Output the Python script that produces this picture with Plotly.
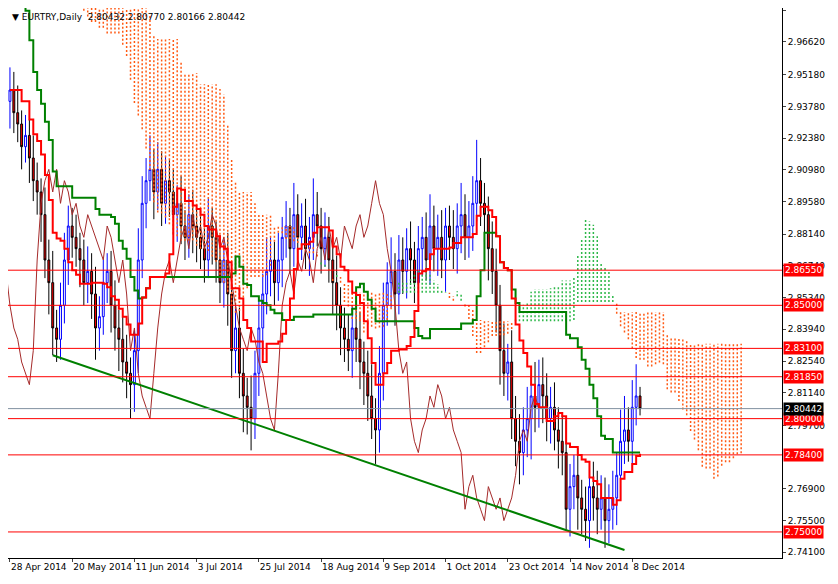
import plotly.graph_objects as go

# ---- data ----
pre_close = [3.02,3.03,3.04,3.05,3.06,3.05,3.04,3.03,3.05,3.07,3.08,3.06,3.05,3.04,3.06,3.08,3.09,3.10,3.08,3.07,
             3.06,3.05,3.07,3.06,3.04,3.03,3.02,3.03,3.05,3.06,3.04,3.02,3.00,2.99,2.98,2.97,2.99,2.98,2.96,2.95,
             2.96,2.97,2.95,2.94,2.93,2.94,2.95,2.96,2.95,2.94,2.93,2.94]
close = [2.945,2.935,2.93,2.92,2.925,2.915,2.905,2.90,2.89,2.87,2.86,
         2.84,2.835,2.85,2.87,2.885,
         2.88,2.875,2.87,2.86,2.865,
         2.855,2.84,2.845,2.86,2.865,
         2.85,2.84,2.835,2.825,2.82,2.815,
         2.83,2.87,2.895,2.905,2.91,
         2.90,2.91,2.895,2.905,2.90,
         2.89,2.895,2.885,2.88,2.89,2.885,
         2.88,2.875,2.87,2.885,2.88,2.87,
         2.86,2.87,2.855,2.83,2.84,
         2.82,2.81,2.805,2.80,2.82,2.84,
         2.855,2.865,2.87,2.86,2.87,2.88,
         2.885,2.875,2.89,2.88,2.885,2.875,
         2.88,2.89,2.885,2.875,2.88,2.87,
         2.86,2.85,2.84,2.835,2.83,2.84,
         2.835,2.825,2.82,2.81,2.80,2.795,
         2.82,2.85,2.86,2.865,2.855,2.87,
         2.865,2.875,2.87,2.86,2.875,2.88,
         2.87,2.885,2.875,2.88,2.87,2.885,
         2.88,2.875,2.885,2.89,2.88,2.885,
         2.895,2.905,2.895,2.89,2.875,2.865,
         2.85,2.83,2.82,2.825,2.80,2.79,
         2.785,2.795,2.80,2.81,2.805,2.815,
         2.81,2.80,2.805,2.795,2.79,2.785,
         2.76,2.77,2.775,2.765,2.76,2.755,
         2.77,2.765,2.76,2.765,2.755,2.76,
         2.765,2.775,2.79,2.795,2.79,2.805,2.81,2.80442]
wick_up = [10,8,12,6,9,7,10,8,6,12,9,
           14,8,10,12,9, 8,10,7,9,11, 8,12,9,10,8, 9,11,8,10,12,7,
           9,14,12,10,15, 9,12,8,11,9, 10,8,12,7,9,11, 8,10,9,12,8,7,
           11,9,12,8,10, 9,11,8,14,10,12, 9,15,10,8,12,9,
           11,8,14,9,10,12, 9,16,10,8,11,9, 10,12,8,9,11,10,
           8,12,9,10,14,9, 12,10,9,15,8,11, 10,9,12,8,10,9,
           11,14,9,10,12,8, 9,12,10,14,9,11, 12,18,10,9,8,12,
           10,9,12,8,14,10, 12,10,14,9,15,11, 12,10,9,11,10,12,
           14,10,9,12,8,10, 9,11,12,10,9,11, 12,10,14,15,10,12,14,4]
wick_dn = [12,9,8,10,7,11,9,10,12,8,14,
           12,10,9,8,11, 9,8,12,10,9, 11,14,10,8,9, 12,10,14,9,11,15,
           12,10,8,11,9, 12,8,10,9,11, 9,12,8,10,9,12, 11,9,10,8,12,10,
           9,11,14,12,10, 11,16,12,14,9,10, 12,9,11,10,8,12,
           9,11,8,12,10,9, 12,10,9,11,8,10, 14,11,12,10,9,12,
           10,12,14,11,9,15, 10,12,9,11,14,9, 10,12,11,9,8,12,
           9,11,10,12,8,14, 10,9,11,12,10,9, 11,8,10,12,14,10,
           12,15,10,12,9,11, 14,10,12,18,11,9, 12,10,11,9,12,10,
           9,12,10,14,11,9, 12,10,11,9,12,10, 9,12,11,10,9,14,8,3]
tick_dates = ["28 Apr 2014","20 May 2014","11 Jun 2014","3 Jul 2014","25 Jul 2014","18 Aug 2014",
              "9 Sep 2014","1 Oct 2014","23 Oct 2014","14 Nov 2014","8 Dec 2014"]
y_ticks = [2.98020,2.96620,2.95180,2.93780,2.92380,2.90980,2.89580,2.88140,2.86740,2.85340,
           2.83940,2.82540,2.81140,2.79700,2.76900,2.75500,2.74100]
levels = [2.86550,2.85000,2.83100,2.81850,2.80000,2.78400,2.75000]
last_price = 2.80442
trend_pts = [(11, 2.828), (158, 2.742)]

# ---- build OHLC ----
npre = len(pre_close)
allc = pre_close + close
opens, highs, lows = [], [], []
for i, c in enumerate(allc):
    o = allc[i-1] if i > 0 else c
    opens.append(o)
    if i >= npre:
        k = i - npre
        highs.append(max(o, c) + wick_up[k]/1000)
        lows.append(min(o, c) - wick_dn[k]/1000)
    else:
        highs.append(max(o, c) + 0.01)
        lows.append(min(o, c) - 0.01)
X = list(range(-npre, len(close)))

def mid(n, i):
    h = max(highs[max(0, i-n+1):i+1]); l = min(lows[max(0, i-n+1):i+1])
    return (h + l) / 2

N = len(allc)
tenkan = [mid(9, i) for i in range(N)]
kijun = [mid(26, i) for i in range(N)]
spanA = [(tenkan[i]+kijun[i])/2 for i in range(N)]
spanB = [mid(52, i) for i in range(N)]

FONT = "DejaVu Sans"
FS = 9
fig = go.Figure()
cx_o, cy_o, cx_g, cy_g = [], [], [], []
for i in range(N):
    xx = X[i] + 26
    if xx < -1:
        continue
    a, b = spanA[i], spanB[i]
    if a >= b:
        cx_g += [xx, xx, None]; cy_g += [b, a, None]
    else:
        cx_o += [xx, xx, None]; cy_o += [a, b, None]
fig.add_trace(go.Scatter(x=cx_o, y=cy_o, mode="lines", line=dict(color="#ff5a14", width=1.5, dash="2px,2px"), hoverinfo="skip"))
fig.add_trace(go.Scatter(x=cx_g, y=cy_g, mode="lines", line=dict(color="#2eb84a", width=1.5, dash="2px,2px"), hoverinfo="skip"))

for lv in levels:
    fig.add_hline(y=lv, line=dict(color="#ff0000", width=1))
fig.add_hline(y=last_price, line=dict(color="#8090a0", width=1))

fig.add_trace(go.Scatter(x=[x-26 for x in X[npre:]], y=close, mode="lines", line=dict(color="#a52a2a", width=1)))
fig.add_trace(go.Candlestick(x=X[npre:], open=opens[npre:], high=highs[npre:], low=lows[npre:], close=close,
    increasing=dict(line=dict(color="#0000ff", width=1), fillcolor="#ffffff"),
    decreasing=dict(line=dict(color="#000000", width=1), fillcolor="#ff0000"), whiskerwidth=0))
fig.add_trace(go.Scatter(x=X[npre:], y=kijun[npre:], mode="lines", line=dict(color="#008000", width=2, shape="hv")))
fig.add_trace(go.Scatter(x=X[npre:], y=tenkan[npre:], mode="lines", line=dict(color="#ff0000", width=2, shape="hv")))
fig.add_trace(go.Scatter(x=[p[0] for p in trend_pts], y=[p[1] for p in trend_pts], mode="lines", line=dict(color="#008000", width=2)))

for lv in levels:
    fig.add_annotation(x=1, xref="paper", xanchor="left", y=lv, text=f"{lv:.5f}", showarrow=False,
                       bgcolor="#ff0000", font=dict(color="white", size=FS, family=FONT), borderpad=1, xshift=1)
fig.add_annotation(x=1, xref="paper", xanchor="left", y=last_price, text=f"{last_price:.5f}", showarrow=False,
                   bgcolor="#000000", font=dict(color="white", size=FS, family=FONT), borderpad=1, xshift=1)
fig.add_annotation(x=0, y=1, xref="paper", yref="paper", xanchor="left", yanchor="top", showarrow=False,
                   text="▼ EURTRY,Daily  2.80432 2.80770 2.80166 2.80442", font=dict(size=FS, family=FONT, color="black"), xshift=2, yshift=-2)

fig.update_layout(width=820, height=568, margin=dict(l=0, r=46, t=0, b=18), showlegend=False,
    plot_bgcolor="white", paper_bgcolor="white", font=dict(family=FONT, size=FS, color="black"),
    xaxis=dict(range=[-0.5, 198.5], tickvals=[16*i for i in range(len(tick_dates))], ticktext=tick_dates,
               tickangle=0, ticklabelposition="outside right",
               showgrid=False, rangeslider=dict(visible=False), showline=True, linecolor="black", mirror=True,
               ticks="outside", ticklen=3, zeroline=False),
    yaxis=dict(side="right", range=[2.7385, 2.9812], tickvals=y_ticks, ticktext=[f"{v:.5f}" for v in y_ticks],
               showgrid=False, showline=True, linecolor="black", mirror=True, ticks="outside", ticklen=3, zeroline=False))
fig.write_html("out.html")
